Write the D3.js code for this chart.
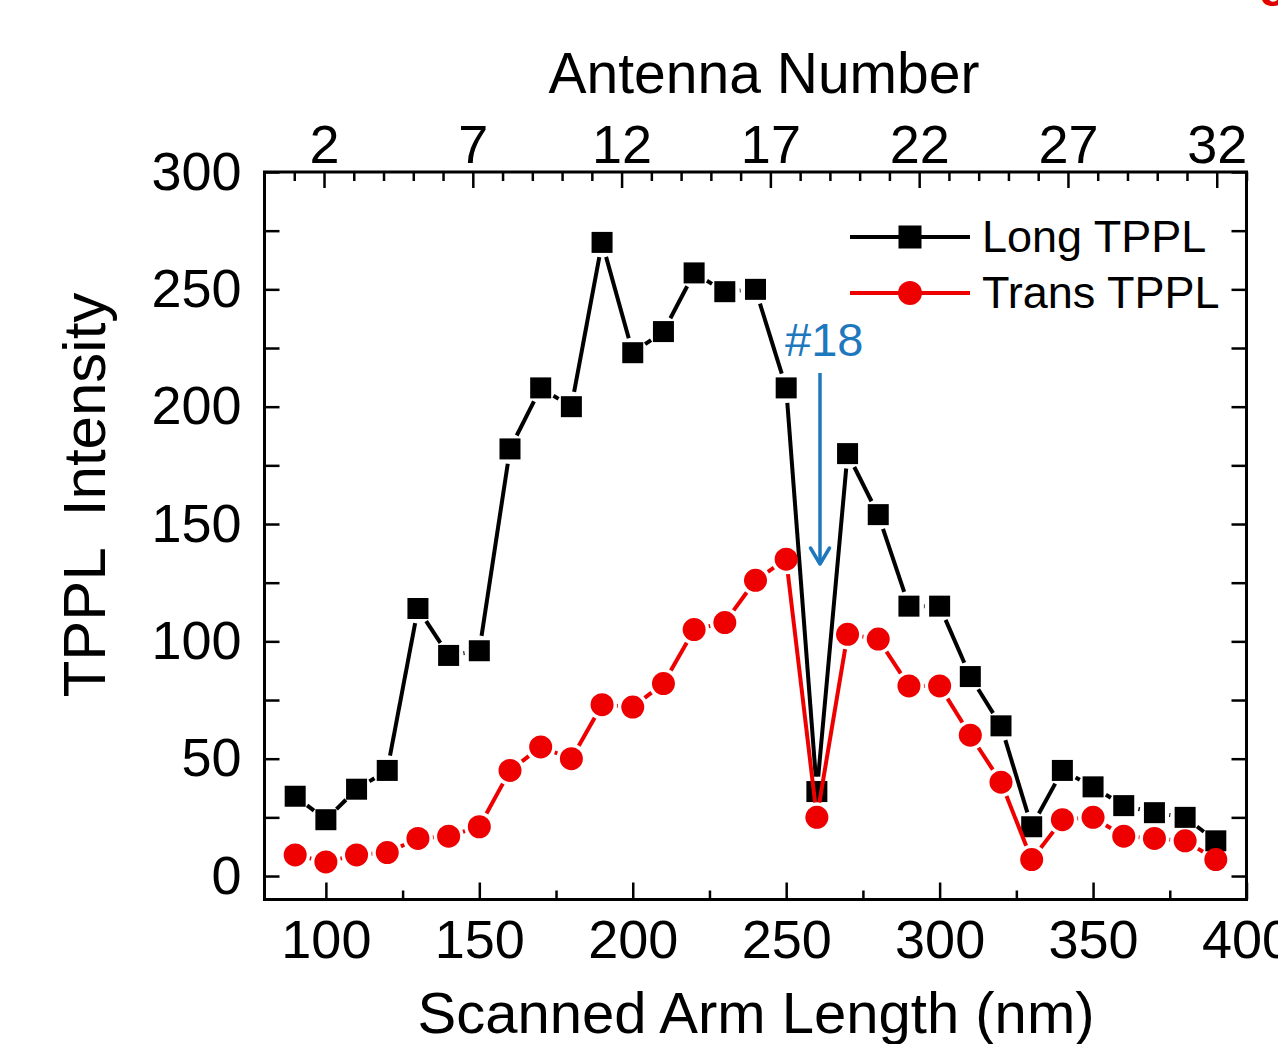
<!DOCTYPE html>
<html lang="en">
<head>
<meta charset="utf-8">
<title>TPPL Intensity</title>
<script src="https://d3js.org/d3.v7.min.js"></script>
<style>
  html, body { margin: 0; padding: 0; background: #fff; }
  svg { display: block; }
  text { font-family: "Liberation Sans", Arial, sans-serif; fill: #000; }
  .axis line { stroke: #000; stroke-width: 2.5px; }
  .axis text { font-family: "Liberation Sans", Arial, sans-serif; font-size: 54px; fill: #000; }
</style>
</head>
<body>
<svg id="chart" width="1278" height="1044"></svg>
<script>
// arm lengths (nm) scanned, one per antenna
var armLength = [90, 100, 110, 120, 130, 140, 150, 160, 170, 180, 190, 200, 210, 220, 230, 240,
                 250, 260, 270, 280, 290, 300, 310, 320, 330, 340, 350, 360, 370, 380, 390];
var longTPPL  = [34, 24, 37, 45, 114, 94, 96, 182, 208, 200, 270, 223, 232, 257, 249, 250,
                 208, 36, 180, 154, 115, 115, 85, 64, 21, 45, 38, 30, 27, 25, 15];
var transTPPL = [9, 6, 9, 10, 16, 17, 21, 45, 55, 50, 73, 72, 82, 105, 108, 126,
                 135, 25, 103, 101, 81, 81, 60, 40, 7, 24, 25, 17, 16, 15, 7];

var xMajor = [100, 150, 200, 250, 300, 350, 400];
var xMinor = [125, 175, 225, 275, 325, 375];
var yMajor = [0, 50, 100, 150, 200, 250, 300];
var yMinor = [25, 75, 125, 175, 225, 275];
var antMajor = [2, 7, 12, 17, 22, 27, 32];
var antMinor = d3.range(1, 34).filter(function(d) { return antMajor.indexOf(d) < 0; });

var seriesNames = ["Long TPPL", "Trans TPPL"];
var seriesColors = ["#000000", "#ee0000"];

var plotL = 264.5, plotR = 1246.5, plotT = 172, plotB = 899.5;

var svg = d3.select("#chart");

var x = d3.scaleLinear().domain([80, 400]).range([plotL, plotR]);
var xTop = d3.scaleLinear().domain([0, 33]).range([plotL, plotR]);
var y = d3.scaleLinear().domain([-10, 300]).range([plotB, plotT]);

function styleAxis(g) {
    g.select(".domain").remove();
    g.attr("font-family", null).attr("font-size", null);
}

// bottom axis
svg.append("g").attr("class", "axis")
    .attr("transform", "translate(0," + plotB + ")")
    .call(d3.axisBottom(x).tickValues(xMajor).tickSizeInner(-17).tickSizeOuter(0).tickPadding(20))
    .call(styleAxis);
svg.append("g").attr("class", "axis")
    .attr("transform", "translate(0," + plotB + ")")
    .call(d3.axisBottom(x).tickValues(xMinor).tickSizeInner(-9).tickSizeOuter(0).tickFormat(""))
    .call(styleAxis);

// top axis (antenna number)
svg.append("g").attr("class", "axis")
    .attr("transform", "translate(0," + plotT + ")")
    .call(d3.axisTop(xTop).tickValues(antMajor).tickSizeInner(-16).tickSizeOuter(0).tickPadding(9))
    .call(styleAxis);
svg.append("g").attr("class", "axis")
    .attr("transform", "translate(0," + plotT + ")")
    .call(d3.axisTop(xTop).tickValues(antMinor).tickSizeInner(-9).tickSizeOuter(0).tickFormat(""))
    .call(styleAxis);

// left and right axes
svg.append("g").attr("class", "axis")
    .attr("transform", "translate(" + plotL + ",0)")
    .call(d3.axisLeft(y).tickValues(yMajor).tickSizeInner(-15).tickSizeOuter(0).tickPadding(23))
    .call(styleAxis);
svg.append("g").attr("class", "axis")
    .attr("transform", "translate(" + plotL + ",0)")
    .call(d3.axisLeft(y).tickValues(yMinor).tickSizeInner(-15).tickSizeOuter(0).tickFormat(""))
    .call(styleAxis);
svg.append("g").attr("class", "axis")
    .attr("transform", "translate(" + plotR + ",0)")
    .call(d3.axisRight(y).tickValues(yMajor.concat(yMinor)).tickSizeInner(-15).tickSizeOuter(0).tickFormat(""))
    .call(styleAxis);

// frame
svg.append("rect")
    .attr("x", plotL).attr("y", plotT)
    .attr("width", plotR - plotL).attr("height", plotB - plotT)
    .attr("fill", "none").attr("stroke", "#000").attr("stroke-width", 3);

// axis titles
svg.append("text").attr("x", 764).attr("y", 93)
    .attr("text-anchor", "middle").attr("font-size", 57).text("Antenna Number");
svg.append("text").attr("x", 756).attr("y", 1033)
    .attr("text-anchor", "middle").attr("font-size", 58).text("Scanned Arm Length (nm)");
svg.append("text").attr("transform", "translate(105,495) rotate(-90)")
    .attr("text-anchor", "middle").attr("font-size", 60)
    .style("white-space", "pre").text("TPPL  Intensity");

// line segments with small gaps around the markers (Origin style)
function drawSeries(vals, color, marker) {
    var pts = armLength.map(function(d, i) { return [x(d), y(vals[i])]; });
    var gap = 15;
    var segs = [];
    for (var i = 0; i < pts.length - 1; i++) {
        var p = pts[i], q = pts[i + 1];
        var dx = q[0] - p[0], dy = q[1] - p[1];
        var len = Math.sqrt(dx * dx + dy * dy);
        if (len <= 2 * gap) continue;
        var ux = dx / len, uy = dy / len;
        segs.push([p[0] + ux * gap, p[1] + uy * gap, q[0] - ux * gap, q[1] - uy * gap]);
    }
    var g = svg.append("g");
    g.selectAll("line").data(segs).enter().append("line")
        .attr("x1", function(s) { return s[0]; }).attr("y1", function(s) { return s[1]; })
        .attr("x2", function(s) { return s[2]; }).attr("y2", function(s) { return s[3]; })
        .attr("stroke", color).attr("stroke-width", 4);
    if (marker === "square") {
        g.selectAll("rect").data(pts).enter().append("rect")
            .attr("x", function(p) { return p[0] - 10.5; })
            .attr("y", function(p) { return p[1] - 10.5; })
            .attr("width", 21).attr("height", 21)
            .attr("fill", color);
    } else {
        g.selectAll("circle").data(pts).enter().append("circle")
            .attr("cx", function(p) { return p[0]; })
            .attr("cy", function(p) { return p[1]; })
            .attr("r", 11.5)
            .attr("fill", color);
    }
}

drawSeries(longTPPL, seriesColors[0], "square");
drawSeries(transTPPL, seriesColors[1], "circle");

// legend
var legend = svg.append("g");
var legendY = [237, 293];
legendY.forEach(function(ly, i) {
    legend.append("line").attr("x1", 850).attr("x2", 970)
        .attr("y1", ly).attr("y2", ly)
        .attr("stroke", seriesColors[i]).attr("stroke-width", 4);
    if (i === 0) {
        legend.append("rect").attr("x", 910 - 11.5).attr("y", ly - 11.5)
            .attr("width", 23).attr("height", 23).attr("fill", seriesColors[i]);
    } else {
        legend.append("circle").attr("cx", 910).attr("cy", ly).attr("r", 12)
            .attr("fill", seriesColors[i]);
    }
    legend.append("text").attr("x", 982).attr("y", ly + 15)
        .attr("font-size", 45).text(seriesNames[i]);
});

// antenna #18 marker
var blue = "#1e78be";
svg.append("text").attr("x", 785).attr("y", 356)
    .attr("font-family", "'Open Sans', 'Noto Sans', sans-serif")
    .attr("font-size", 47).attr("fill", blue).style("fill", blue).text("#18");
svg.append("line").attr("x1", 820).attr("x2", 820).attr("y1", 373).attr("y2", 564)
    .attr("stroke", blue).attr("stroke-width", 3.5);
svg.append("path").attr("d", "M810.5,548 L820,564 L829.5,548")
    .attr("fill", "none").attr("stroke", blue).attr("stroke-width", 3.5)
    .attr("stroke-linecap", "round").attr("stroke-linejoin", "round");

// fragment of red text cut off at the top right of the source figure
svg.append("text").attr("x", 1259).attr("y", -4)
    .attr("font-size", 48).attr("font-weight", "bold")
    .attr("fill", "#e00000").style("fill", "#e00000").text("g");
</script>
</body>
</html>
